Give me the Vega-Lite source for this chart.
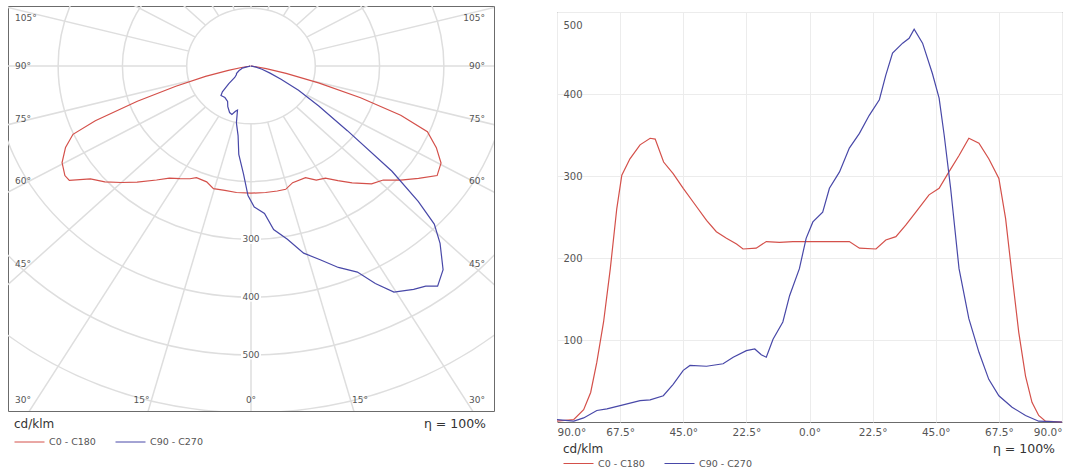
{
  "$schema": "https://vega.github.io/schema/vega-lite/v6.json",
  "padding": {"left": 7, "top": 5, "right": 0, "bottom": 0},
  "background": "white",
  "config": {
    "font": "DejaVu Sans",
    "view": {"stroke": "#6b6b6b", "strokeWidth": 1},
    "legend": {
      "orient": "bottom",
      "direction": "horizontal",
      "symbolType": "stroke",
      "symbolSize": 900,
      "symbolStrokeWidth": 1,
      "labelFontSize": 9.5,
      "labelColor": "#555555",
      "titleFontSize": 12,
      "titleFontWeight": "normal",
      "titleColor": "#333333",
      "titlePadding": 6,
      "columnPadding": 17,
      "labelOffset": 4,
      "padding": 6
    }
  },
  "datasets": {
    "curve": [
      {"s": "C0 - C180", "g": -90, "v": 1, "px": -1, "py": 0},
      {"s": "C0 - C180", "g": -84, "v": 3, "px": -3, "py": 0.3},
      {"s": "C0 - C180", "g": -80.5, "v": 15, "px": -14.8, "py": 2.5},
      {"s": "C0 - C180", "g": -78, "v": 36, "px": -35.2, "py": 7.5},
      {"s": "C0 - C180", "g": -75.8, "v": 73, "px": -70.8, "py": 17.9},
      {"s": "C0 - C180", "g": -73.4, "v": 122, "px": -116.9, "py": 34.9},
      {"s": "C0 - C180", "g": -71, "v": 187, "px": -176.8, "py": 60.9},
      {"s": "C0 - C180", "g": -68.7, "v": 260, "px": -242.2, "py": 94.5},
      {"s": "C0 - C180", "g": -66.9, "v": 301, "px": -276.9, "py": 118.1},
      {"s": "C0 - C180", "g": -64, "v": 321, "px": -288.5, "py": 140.7},
      {"s": "C0 - C180", "g": -60.4, "v": 338, "px": -293.9, "py": 166.9},
      {"s": "C0 - C180", "g": -56.8, "v": 346, "px": -289.5, "py": 189.5},
      {"s": "C0 - C180", "g": -55, "v": 345, "px": -282.6, "py": 197.9},
      {"s": "C0 - C180", "g": -52, "v": 317, "px": -249.8, "py": 195.2},
      {"s": "C0 - C180", "g": -48.6, "v": 303, "px": -227.3, "py": 200.4},
      {"s": "C0 - C180", "g": -45, "v": 285, "px": -201.5, "py": 201.5},
      {"s": "C0 - C180", "g": -41.4, "v": 268, "px": -177.2, "py": 201.0},
      {"s": "C0 - C180", "g": -36.7, "v": 246, "px": -147.0, "py": 197.2},
      {"s": "C0 - C180", "g": -33.2, "v": 232, "px": -127.0, "py": 194.1},
      {"s": "C0 - C180", "g": -29.6, "v": 224, "px": -110.6, "py": 194.8},
      {"s": "C0 - C180", "g": -26, "v": 217, "px": -95.1, "py": 195.0},
      {"s": "C0 - C180", "g": -23.7, "v": 211, "px": -84.8, "py": 193.2},
      {"s": "C0 - C180", "g": -19, "v": 212, "px": -69.0, "py": 200.4},
      {"s": "C0 - C180", "g": -15.4, "v": 220, "px": -58.4, "py": 212.1},
      {"s": "C0 - C180", "g": -10.7, "v": 219, "px": -40.7, "py": 215.2},
      {"s": "C0 - C180", "g": -5.9, "v": 220, "px": -22.6, "py": 218.8},
      {"s": "C0 - C180", "g": 0, "v": 220, "px": 0, "py": 220},
      {"s": "C0 - C180", "g": 5.9, "v": 220, "px": 22.6, "py": 218.8},
      {"s": "C0 - C180", "g": 10.7, "v": 220, "px": 40.9, "py": 216.2},
      {"s": "C0 - C180", "g": 14.2, "v": 220, "px": 54.0, "py": 213.3},
      {"s": "C0 - C180", "g": 17.8, "v": 212, "px": 64.8, "py": 201.8},
      {"s": "C0 - C180", "g": 23.7, "v": 211, "px": 84.8, "py": 193.2},
      {"s": "C0 - C180", "g": 27.2, "v": 222, "px": 101.5, "py": 197.4},
      {"s": "C0 - C180", "g": 30.8, "v": 226, "px": 115.7, "py": 194.1},
      {"s": "C0 - C180", "g": 34.3, "v": 240, "px": 135.2, "py": 198.3},
      {"s": "C0 - C180", "g": 37.9, "v": 256, "px": 157.3, "py": 202.0},
      {"s": "C0 - C180", "g": 42.6, "v": 277, "px": 187.5, "py": 203.9},
      {"s": "C0 - C180", "g": 46.2, "v": 285, "px": 205.7, "py": 197.2},
      {"s": "C0 - C180", "g": 49.7, "v": 305, "px": 232.6, "py": 197.3},
      {"s": "C0 - C180", "g": 53.3, "v": 325, "px": 260.6, "py": 194.2},
      {"s": "C0 - C180", "g": 56.8, "v": 346, "px": 289.5, "py": 189.5},
      {"s": "C0 - C180", "g": 60.4, "v": 340, "px": 295.6, "py": 167.9},
      {"s": "C0 - C180", "g": 63.9, "v": 321, "px": 288.3, "py": 141.2},
      {"s": "C0 - C180", "g": 67.5, "v": 297, "px": 274.4, "py": 113.7},
      {"s": "C0 - C180", "g": 69.9, "v": 248, "px": 232.9, "py": 85.2},
      {"s": "C0 - C180", "g": 72.2, "v": 179, "px": 170.4, "py": 54.7},
      {"s": "C0 - C180", "g": 74.6, "v": 109, "px": 105.1, "py": 29.0},
      {"s": "C0 - C180", "g": 77, "v": 56, "px": 54.6, "py": 12.6},
      {"s": "C0 - C180", "g": 79.3, "v": 24, "px": 23.6, "py": 4.5},
      {"s": "C0 - C180", "g": 81.7, "v": 8, "px": 7.9, "py": 1.2},
      {"s": "C0 - C180", "g": 84.1, "v": 1, "px": 1.0, "py": 0.1},
      {"s": "C0 - C180", "g": 90, "v": 0, "px": 0, "py": 0},
      {"s": "C90 - C270", "g": -90, "v": 3, "px": -3, "py": 0},
      {"s": "C90 - C270", "g": -84, "v": 1, "px": -1, "py": 0.1},
      {"s": "C90 - C270", "g": -80.5, "v": 5, "px": -4.9, "py": 0.8},
      {"s": "C90 - C270", "g": -75.8, "v": 14, "px": -13.6, "py": 3.4},
      {"s": "C90 - C270", "g": -72.2, "v": 16, "px": -15.2, "py": 4.9},
      {"s": "C90 - C270", "g": -67.5, "v": 20, "px": -18.5, "py": 7.7},
      {"s": "C90 - C270", "g": -60.4, "v": 26, "px": -22.6, "py": 12.8},
      {"s": "C90 - C270", "g": -56.8, "v": 27, "px": -22.6, "py": 14.8},
      {"s": "C90 - C270", "g": -52.1, "v": 32, "px": -25.3, "py": 19.7},
      {"s": "C90 - C270", "g": -48.6, "v": 46, "px": -34.5, "py": 30.4},
      {"s": "C90 - C270", "g": -45, "v": 63, "px": -44.5, "py": 44.5},
      {"s": "C90 - C270", "g": -42.6, "v": 69, "px": -46.7, "py": 50.8},
      {"s": "C90 - C270", "g": -36.7, "v": 68, "px": -40.6, "py": 54.5},
      {"s": "C90 - C270", "g": -30.8, "v": 71, "px": -36.4, "py": 61.0},
      {"s": "C90 - C270", "g": -27.2, "v": 79, "px": -36.1, "py": 70.3},
      {"s": "C90 - C270", "g": -22.5, "v": 87, "px": -33.3, "py": 80.4},
      {"s": "C90 - C270", "g": -19.5, "v": 89, "px": -29.7, "py": 83.9},
      {"s": "C90 - C270", "g": -17.2, "v": 82, "px": -24.2, "py": 78.3},
      {"s": "C90 - C270", "g": -15.4, "v": 79, "px": -21.0, "py": 76.2},
      {"s": "C90 - C270", "g": -13, "v": 101, "px": -22.7, "py": 98.4},
      {"s": "C90 - C270", "g": -9.5, "v": 122, "px": -20.1, "py": 120.3},
      {"s": "C90 - C270", "g": -7.1, "v": 154, "px": -19.0, "py": 152.8},
      {"s": "C90 - C270", "g": -3.6, "v": 187, "px": -11.7, "py": 186.6},
      {"s": "C90 - C270", "g": -1.2, "v": 224, "px": -4.7, "py": 224.0},
      {"s": "C90 - C270", "g": 1.2, "v": 244, "px": 5.1, "py": 243.9},
      {"s": "C90 - C270", "g": 4.7, "v": 256, "px": 21.0, "py": 255.1},
      {"s": "C90 - C270", "g": 7.1, "v": 285, "px": 35.2, "py": 282.8},
      {"s": "C90 - C270", "g": 10.7, "v": 305, "px": 56.6, "py": 299.7},
      {"s": "C90 - C270", "g": 14.2, "v": 334, "px": 81.9, "py": 323.8},
      {"s": "C90 - C270", "g": 17.8, "v": 352, "px": 107.6, "py": 335.1},
      {"s": "C90 - C270", "g": 21.3, "v": 374, "px": 135.9, "py": 348.5},
      {"s": "C90 - C270", "g": 24.9, "v": 393, "px": 165.5, "py": 356.5},
      {"s": "C90 - C270", "g": 27.2, "v": 423, "px": 193.4, "py": 376.2},
      {"s": "C90 - C270", "g": 29.6, "v": 450, "px": 222.3, "py": 391.3},
      {"s": "C90 - C270", "g": 33.2, "v": 462, "px": 253.0, "py": 386.6},
      {"s": "C90 - C270", "g": 35.5, "v": 468, "px": 271.8, "py": 381.0},
      {"s": "C90 - C270", "g": 37.3, "v": 479, "px": 290.3, "py": 381.0},
      {"s": "C90 - C270", "g": 40.3, "v": 462, "px": 298.8, "py": 352.4},
      {"s": "C90 - C270", "g": 43.8, "v": 425, "px": 294.1, "py": 306.8},
      {"s": "C90 - C270", "g": 46.2, "v": 395, "px": 285.1, "py": 273.4},
      {"s": "C90 - C270", "g": 48, "v": 350, "px": 260.1, "py": 234.2},
      {"s": "C90 - C270", "g": 50.3, "v": 285, "px": 219.3, "py": 182.1},
      {"s": "C90 - C270", "g": 53.3, "v": 187, "px": 149.9, "py": 111.8},
      {"s": "C90 - C270", "g": 56.8, "v": 126, "px": 105.4, "py": 69.0},
      {"s": "C90 - C270", "g": 60.4, "v": 85, "px": 73.9, "py": 42.0},
      {"s": "C90 - C270", "g": 63.9, "v": 52, "px": 46.7, "py": 22.9},
      {"s": "C90 - C270", "g": 67.5, "v": 32, "px": 29.6, "py": 12.2},
      {"s": "C90 - C270", "g": 72.2, "v": 18, "px": 17.1, "py": 5.5},
      {"s": "C90 - C270", "g": 77, "v": 8, "px": 7.8, "py": 1.8},
      {"s": "C90 - C270", "g": 81.7, "v": 1, "px": 1.0, "py": 0.1},
      {"s": "C90 - C270", "g": 90, "v": 0, "px": 0, "py": 0}
    ],
    "rings": [{"r": 100}, {"r": 200}, {"r": 300}, {"r": 400}, {"r": 500}, {"r": 600}],
    "rays": [
      {"a": 0, "x0": 0, "y0": 100, "x1": 0, "y1": 1000},
      {"a": 15, "x0": 25.9, "y0": 96.6, "x1": 258.8, "y1": 965.9},
      {"a": 30, "x0": 50, "y0": 86.6, "x1": 500, "y1": 866},
      {"a": 45, "x0": 70.7, "y0": 70.7, "x1": 707.1, "y1": 707.1},
      {"a": 60, "x0": 86.6, "y0": 50, "x1": 866, "y1": 500},
      {"a": 75, "x0": 96.6, "y0": 25.9, "x1": 965.9, "y1": 258.8},
      {"a": 90, "x0": 100, "y0": 0, "x1": 1000, "y1": 0},
      {"a": 105, "x0": 96.6, "y0": -25.9, "x1": 965.9, "y1": -258.8},
      {"a": 120, "x0": 86.6, "y0": -50, "x1": 866, "y1": -500},
      {"a": 135, "x0": 70.7, "y0": -70.7, "x1": 707.1, "y1": -707.1},
      {"a": 150, "x0": 50, "y0": -86.6, "x1": 500, "y1": -866},
      {"a": 165, "x0": 25.9, "y0": -96.6, "x1": 258.8, "y1": -965.9},
      {"a": 180, "x0": 0, "y0": -100, "x1": 0, "y1": -1000},
      {"a": 195, "x0": -25.9, "y0": -96.6, "x1": -258.8, "y1": -965.9},
      {"a": 210, "x0": -50, "y0": -86.6, "x1": -500, "y1": -866},
      {"a": 225, "x0": -70.7, "y0": -70.7, "x1": -707.1, "y1": -707.1},
      {"a": 240, "x0": -86.6, "y0": -50, "x1": -866, "y1": -500},
      {"a": 255, "x0": -96.6, "y0": -25.9, "x1": -965.9, "y1": -258.8},
      {"a": 270, "x0": -100, "y0": 0, "x1": -1000, "y1": 0},
      {"a": 285, "x0": -96.6, "y0": 25.9, "x1": -965.9, "y1": 258.8},
      {"a": 300, "x0": -86.6, "y0": 50, "x1": -866, "y1": 500},
      {"a": 315, "x0": -70.7, "y0": 70.7, "x1": -707.1, "y1": 707.1},
      {"a": 330, "x0": -50, "y0": 86.6, "x1": -500, "y1": 866},
      {"a": 345, "x0": -25.9, "y0": 96.6, "x1": -258.8, "y1": 965.9}
    ],
    "lblL": [
      {"t": "105°", "lx": -367, "ly": -83.6},
      {"t": "90°", "lx": -367, "ly": 0},
      {"t": "75°", "lx": -367, "ly": 91.7},
      {"t": "60°", "lx": -367, "ly": 199},
      {"t": "45°", "lx": -367, "ly": 342.7},
      {"t": "30°", "lx": -367, "ly": 578}
    ],
    "lblR": [
      {"t": "105°", "lx": 364, "ly": -83.6},
      {"t": "90°", "lx": 364, "ly": 0},
      {"t": "75°", "lx": 364, "ly": 91.7},
      {"t": "60°", "lx": 364, "ly": 199},
      {"t": "45°", "lx": 364, "ly": 342.7},
      {"t": "30°", "lx": 364, "ly": 578}
    ],
    "lblC": [
      {"t": "15°", "lx": -170.3, "ly": 578},
      {"t": "0°", "lx": 0, "ly": 578},
      {"t": "15°", "lx": 169.5, "ly": 578}
    ]
  },
  "resolve": {"scale": {"color": "independent"}},
  "spacing": 59,
  "hconcat": [
    {
      "width": 486,
      "height": 405,
      "layer": [
        {
          "data": {"name": "rings"},
          "mark": {"type": "point", "shape": "M-1.1128,0A1.1128,1,0,1,1,1.1128,0A1.1128,1,0,1,1,-1.1128,0Z", "filled": false, "stroke": "#dedede", "strokeWidth": 1.5, "opacity": 1, "clip": true},
          "encoding": {
            "x": {"datum": 0, "type": "quantitative", "scale": {"domain": [-378, 378], "nice": false}, "axis": null},
            "y": {"datum": 0, "type": "quantitative", "scale": {"domain": [-104, 597], "nice": false, "reverse": true}, "axis": null},
            "size": {"field": "r", "type": "quantitative", "scale": {"type": "pow", "exponent": 2, "domain": [0, 600], "range": [0, 480665]}, "legend": null}
          }
        },
        {
          "data": {"name": "rays"},
          "mark": {"type": "rule", "stroke": "#dedede", "strokeWidth": 1.5, "clip": true},
          "encoding": {
            "x": {"field": "x0", "type": "quantitative", "scale": {"domain": [-378, 378], "nice": false}, "axis": null},
            "y": {"field": "y0", "type": "quantitative", "scale": {"domain": [-104, 597], "nice": false, "reverse": true}, "axis": null},
            "x2": {"field": "x1"},
            "y2": {"field": "y1"}
          }
        },
        {
          "data": {"name": "rings"},
          "transform": [{"filter": "datum.r >= 300 && datum.r <= 500"}],
          "mark": {"type": "point", "shape": "M-1,-0.45H1V0.45H-1Z", "size": 400, "filled": true, "color": "white", "opacity": 1, "strokeWidth": 0},
          "encoding": {
            "x": {"datum": 0, "type": "quantitative", "scale": {"domain": [-378, 378], "nice": false}, "axis": null},
            "y": {"field": "r", "type": "quantitative", "scale": {"domain": [-104, 597], "nice": false, "reverse": true}, "axis": null}
          }
        },
        {
          "data": {"name": "rings"},
          "transform": [{"filter": "datum.r >= 300 && datum.r <= 500"}],
          "mark": {"type": "text", "fontSize": 9, "color": "#555555", "align": "center", "baseline": "middle"},
          "encoding": {
            "x": {"datum": 0, "type": "quantitative", "scale": {"domain": [-378, 378], "nice": false}, "axis": null},
            "y": {"field": "r", "type": "quantitative", "scale": {"domain": [-104, 597], "nice": false, "reverse": true}, "axis": null},
            "text": {"field": "r", "type": "quantitative"}
          }
        },
        {
          "data": {"name": "lblL"},
          "mark": {"type": "text", "fontSize": 9, "color": "#555555", "align": "left", "baseline": "middle"},
          "encoding": {
            "x": {"field": "lx", "type": "quantitative", "scale": {"domain": [-378, 378], "nice": false}, "axis": null},
            "y": {"field": "ly", "type": "quantitative", "scale": {"domain": [-104, 597], "nice": false, "reverse": true}, "axis": null},
            "text": {"field": "t"}
          }
        },
        {
          "data": {"name": "lblR"},
          "mark": {"type": "text", "fontSize": 9, "color": "#555555", "align": "right", "baseline": "middle"},
          "encoding": {
            "x": {"field": "lx", "type": "quantitative", "scale": {"domain": [-378, 378], "nice": false}, "axis": null},
            "y": {"field": "ly", "type": "quantitative", "scale": {"domain": [-104, 597], "nice": false, "reverse": true}, "axis": null},
            "text": {"field": "t"}
          }
        },
        {
          "data": {"name": "lblC"},
          "mark": {"type": "text", "fontSize": 9, "color": "#555555", "align": "center", "baseline": "middle"},
          "encoding": {
            "x": {"field": "lx", "type": "quantitative", "scale": {"domain": [-378, 378], "nice": false}, "axis": null},
            "y": {"field": "ly", "type": "quantitative", "scale": {"domain": [-104, 597], "nice": false, "reverse": true}, "axis": null},
            "text": {"field": "t"}
          }
        },
        {
          "data": {"name": "curve"},
          "mark": {"type": "line", "strokeWidth": 1.2},
          "encoding": {
            "x": {"field": "px", "type": "quantitative", "scale": {"domain": [-378, 378], "nice": false}, "axis": null},
            "y": {"field": "py", "type": "quantitative", "scale": {"domain": [-104, 597], "nice": false, "reverse": true}, "axis": null},
            "order": {"field": "g", "type": "quantitative"},
            "color": {"field": "s", "type": "nominal", "scale": {"domain": ["C0 - C180", "C90 - C270"], "range": ["#d4504a", "#4848a8"]}, "legend": {"title": "cd/klm", "offset": 2, "titlePadding": -4.5}}
          }
        },
        {
          "data": {"values": [{}]},
          "mark": {"type": "text", "text": "η = 100%", "align": "right", "baseline": "middle", "dx": -8, "dy": 13, "fontSize": 12.5, "color": "#333333"},
          "encoding": {
            "x": {"datum": 378, "type": "quantitative", "scale": {"domain": [-378, 378], "nice": false}, "axis": null},
            "y": {"datum": 597, "type": "quantitative", "scale": {"domain": [-104, 597], "nice": false, "reverse": true}, "axis": null}
          }
        }
      ]
    },
    {
      "spacing": 4,
      "resolve": {"scale": {"color": "independent"}},
      "vconcat": [
        {
          "width": 505,
          "height": 1,
          "view": {"stroke": null},
          "data": {"values": []},
          "mark": {"type": "point"},
          "encoding": {}
        },
        {
          "width": 505,
          "height": 410,
          "layer": [
            {
              "data": {"name": "curve"},
              "mark": {"type": "line", "strokeWidth": 1.2},
              "encoding": {
                "x": {"field": "g", "type": "quantitative", "scale": {"domain": [-90, 90], "nice": false},
                  "axis": {"values": [-90, -67.5, -45, -22.5, 0, 22.5, 45, 67.5, 90], "labelExpr": "format(abs(datum.value), '.1f') + '°'", "labelFlush": true, "ticks": false, "domain": false, "grid": true, "gridColor": "#ececec", "labelFontSize": 10.5, "labelColor": "#555555", "labelPadding": 5, "title": null}},
                "y": {"field": "v", "type": "quantitative", "scale": {"domain": [0, 500], "nice": false},
                  "axis": {"values": [100, 200, 300, 400, 500], "ticks": false, "domain": false, "grid": true, "gridColor": "#ececec", "labelAlign": "left", "labelPadding": -6, "labelFlush": true, "labelFlushOffset": -8, "labelFontSize": 10, "labelColor": "#555555", "title": null}},
                "order": {"field": "g", "type": "quantitative"},
                "color": {"field": "s", "type": "nominal", "scale": {"domain": ["C0 - C180", "C90 - C270"], "range": ["#d4504a", "#4848a8"]}, "legend": {"title": "cd/klm", "offset": 0, "titlePadding": -8}}
              }
            },
            {
              "data": {"values": [{}]},
              "mark": {"type": "text", "text": "η = 100%", "align": "right", "baseline": "middle", "dx": -7, "dy": 27, "fontSize": 12.5, "color": "#333333"},
              "encoding": {
                "x": {"datum": 90, "type": "quantitative", "scale": {"domain": [-90, 90], "nice": false}},
                "y": {"datum": 0, "type": "quantitative", "scale": {"domain": [0, 500], "nice": false}}
              }
            }
          ]
        }
      ]
    }
  ]
}
